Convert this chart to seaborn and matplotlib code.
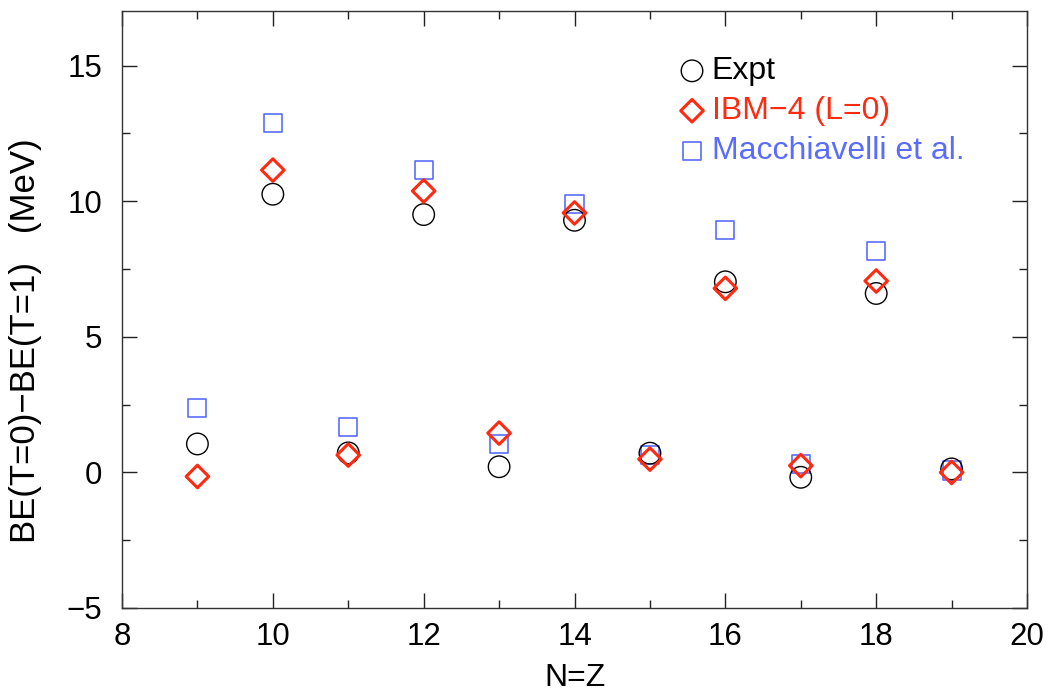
import matplotlib
matplotlib.use("Agg")
import matplotlib.pyplot as plt
import seaborn as sns
import pandas as pd
from matplotlib.ticker import MultipleLocator

# Data
nz = [9, 10, 11, 12, 13, 14, 15, 16, 17, 18, 19]
expt = [1.05, 10.26, 0.72, 9.51, 0.21, 9.30, 0.71, 7.03, -0.18, 6.60, 0.13]
ibm4 = [-0.15, 11.15, 0.64, 10.38, 1.45, 9.57, 0.49, 6.79, 0.25, 7.06, 0.0]
macch = [2.39, 12.87, 1.69, 11.15, 1.04, 9.89, 0.64, 8.93, 0.30, 8.16, 0.07]
labels = ["Expt", "IBM\u22124 (L=0)", "Macchiavelli et al."]

sns.set_theme(style="white")
plt.rcParams["font.family"] = ["Liberation Sans", "DejaVu Sans"]

fig = plt.figure(figsize=(10.48, 6.92), dpi=100)
ax = fig.add_axes([0.1164, 0.1214, 0.8636, 0.862])

df = pd.DataFrame({"nz": nz, "expt": expt, "ibm4": ibm4, "macch": macch})

red = "#ff2a10"
blue = "#5a6cff"

sns.scatterplot(data=df, x="nz", y="macch", ax=ax, marker="s", s=13**2,
                facecolor="none", edgecolor=blue, linewidth=1.2, label=labels[2], zorder=2)
sns.scatterplot(data=df, x="nz", y="expt", ax=ax, marker="o", s=15.5**2,
                facecolor="none", edgecolor="black", linewidth=1.0, label=labels[0], zorder=3)
sns.scatterplot(data=df, x="nz", y="ibm4", ax=ax, marker="D", s=11.5**2,
                facecolor="none", edgecolor=red, linewidth=2.2, label=labels[1], zorder=4)

ax.set_xlim(8, 20)
ax.set_ylim(-5, 17)
ax.xaxis.set_major_locator(MultipleLocator(2))
ax.xaxis.set_minor_locator(MultipleLocator(1))
ax.yaxis.set_minor_locator(MultipleLocator(2.5))
ax.set_yticks([-5, 0, 5, 10, 15])
ax.set_yticklabels(["\u22125", "0", "5", "10", "15"])
ax.tick_params(which="both", direction="in", top=True, right=True,
               bottom=True, left=True, color="#222222", width=1.0)
ax.tick_params(which="major", length=11, labelsize=22.5, labelcolor="black")
ax.tick_params(axis="x", which="major", pad=10)
ax.tick_params(axis="y", which="major", pad=14)
ax.tick_params(which="minor", length=6)

for sp in ax.spines.values():
    sp.set_color("#333333")
    sp.set_linewidth(1.0)

ax.set_xlabel("N=Z", fontsize=23, labelpad=8, color="black")
ax.set_ylabel("BE(T=0)\u2212BE(T=1)   (MeV)", fontsize=25, color="black")
ax.yaxis.set_label_coords(-0.0884, 0.448)

handles, labs = ax.get_legend_handles_labels()
order = [labs.index(l) for l in labels]
leg = ax.legend([handles[i] for i in order], [labs[i] for i in order],
                loc="upper left", bbox_to_anchor=(0.6157, 0.925), frameon=False,
                fontsize=23, handletextpad=0.22, labelspacing=0.31,
                handlelength=0.8, borderaxespad=0, borderpad=0)
for t, c in zip(leg.get_texts(), ["black", red, blue]):
    t.set_color(c)

fig.savefig("out.png", dpi=100)
